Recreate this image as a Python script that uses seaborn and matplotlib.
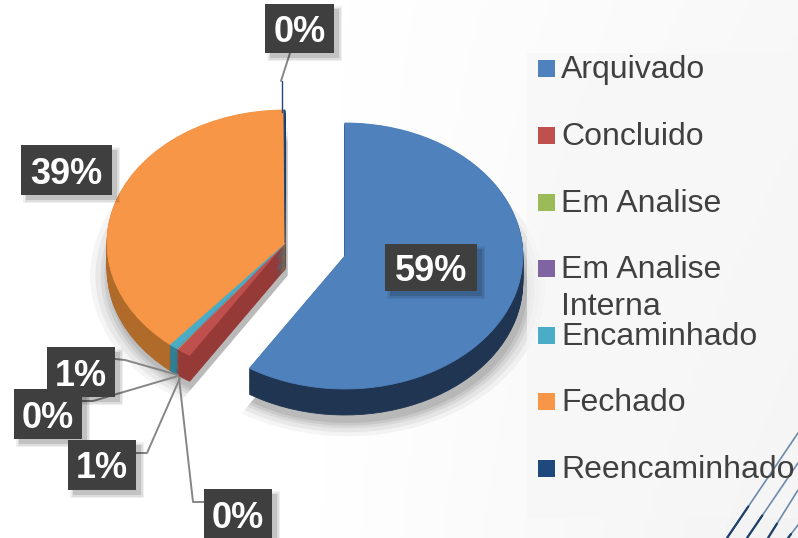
import numpy as np
import matplotlib
matplotlib.use("Agg")
import matplotlib.pyplot as plt
import seaborn as sns
from matplotlib.patches import Rectangle

categories = ["Arquivado", "Concluido", "Em Analise", "Em Analise\nInterna",
              "Encaminhado", "Fechado", "Reencaminhado"]
values = [59.0, 1.3, 0.05, 0.05, 0.8, 38.7, 0.1]
pct_labels = ["59%", "1%", "0%", "0%", "1%", "39%", "0%"]
top_colors = ["#4F81BD", "#C0504D", "#9BBB59", "#8064A2", "#4BACC6", "#F79646", "#1F497D"]
side_colors = ["#1F3552", "#963A38", "#6F8740", "#5B4774", "#2F7F94", "#B06A2A", "#14305A"]
explode = [0.35, 0, 0, 0, 0, 0, 0]

sns.set_theme(style="white")
plt.rcParams["font.family"] = ["Liberation Sans", "DejaVu Sans"]

W, H = 798, 538
fig = plt.figure(figsize=(W / 100, H / 100), dpi=100, facecolor="white")

# background gradient
bg = fig.add_axes([0, 0, 1, 1], zorder=0)
bg.axis("off")
gx, gy = np.meshgrid(np.linspace(0, 1, 200), np.linspace(0, 1, 140))
g = 1 - 0.05 * np.clip((gx - 0.35) / 0.65, 0, 1) * (0.6 + 0.4 * gy)
bg.imshow(g, cmap="gray", vmin=0, vmax=1, aspect="auto", extent=[0, W, H, 0])
bg.set_xlim(0, W)
bg.set_ylim(H, 0)

# pie axes: one x unit = rx px, one y unit = ry px around pie centre
cx, cy, rx, ry = 285, 243, 178, 133
ax = fig.add_axes([0, 0, 1, 1], zorder=1)
ax.patch.set_alpha(0)

depth = 26 / ry
wedgeline = dict(linewidth=0.6)

# soft shadow
for grow, a in zip([1.11, 1.08, 1.05, 1.03, 1.01], [0.04, 0.05, 0.06, 0.07, 0.08]):
    ax.pie(values, radius=grow, center=(0.015, -depth - 0.05), explode=explode, startangle=90,
           counterclock=False, colors=["#000000"] * 7,
           wedgeprops=dict(linewidth=0, alpha=a))

# extruded sides
for d in np.linspace(depth, 0.005, 24):
    w, _ = ax.pie(values, center=(0, -d), explode=explode, startangle=90,
                  counterclock=False, colors=sns.color_palette(side_colors),
                  wedgeprops=dict(wedgeline))
    for p, c in zip(w, side_colors):
        p.set_edgecolor(c)

# top face
wedges, _ = ax.pie(values, center=(0, 0), explode=explode, startangle=90,
                   counterclock=False, colors=sns.color_palette(top_colors),
                   wedgeprops=dict(wedgeline))
for p, c in zip(wedges, top_colors):
    p.set_edgecolor(c)

ax.set_aspect("auto")
ax.set_xlim(-cx / rx, (W - cx) / rx)
ax.set_ylim((cy - H) / ry, cy / ry)
ax.set_frame_on(False)

# overlay in pixel coordinates: leader lines, labels, legend
ov = fig.add_axes([0, 0, 1, 1], zorder=2)
ov.set_xlim(0, W)
ov.set_ylim(H, 0)
ov.axis("off")

# legend panel
ov.add_patch(Rectangle((527, 53), 271, 465, fc="#F7F7F7", ec="none", alpha=0.7, zorder=1))

# decorative corner lines
for x0, y1 in zip([727, 747, 768, 788], [433, 463, 490, 525]):
    ov.plot([x0, 798], [538, y1], color="#54789F", lw=1.2, alpha=0.85, zorder=2)
    ov.plot([x0, x0 + (798 - x0) * 0.3], [538, 538 - (538 - y1) * 0.3], color="#1F3F68", lw=1.6, zorder=2)

leaders = [
    ([115, 125, 178], [359, 360, 375]),
    ([80, 93, 178], [401, 401, 376]),
    ([136, 147, 180], [453, 453, 378]),
    ([204, 193, 179], [502, 502, 378]),
    ([290, 281], [53, 81]),
]
for xs, ys in leaders:
    ov.plot(xs, ys, color="#868686", lw=1.4, solid_capstyle="round", zorder=2)
ov.plot([282, 282], [81, 112], color=top_colors[6], lw=1.0, zorder=2)

label_boxes = [
    (385, 244, 92, 47, 0),
    (47, 347, 68, 50, 1),
    (14, 389, 68, 50, 2),
    (68, 440, 68, 50, 4),
    (204, 489, 68, 50, 3),
    (21, 145, 91, 50, 5),
    (265, 4, 69, 49, 6),
]
for x, y, w, h, i in label_boxes:
    for k, a in zip([10, 7, 4], [0.06, 0.08, 0.12]):
        ov.add_patch(Rectangle((x + 5 - k / 2 + 2, y + 5 - k / 2 + 2), w + k - 4, h + k - 4,
                               fc="black", ec="none", alpha=a, zorder=3))
    ov.add_patch(Rectangle((x, y), w, h, fc="#3F3F3F", ec="none", zorder=4))
    ov.text(x + w / 2, y + h / 2 + 4, pct_labels[i], color="white", fontsize=26,
            fontweight="bold", ha="center", va="center", zorder=5)

legend_y = [68, 135, 202, 268, 335, 401, 468]
for name, c, y in zip(categories, top_colors, legend_y):
    ov.add_patch(Rectangle((538, y - 8), 17, 17, fc=c, ec="none", zorder=3))
    if "\n" in name:
        a, b = name.split("\n")
        ov.text(561, y + 2, a, fontsize=23, color="#404040", va="center", ha="left", zorder=6)
        ov.text(561, y + 39, b, fontsize=23, color="#404040", va="center", ha="left", zorder=6)
    else:
        ov.text(561, y + 2, name, fontsize=23, color="#404040", va="center", ha="left", zorder=6)

fig.savefig("out.png", dpi=100, facecolor="white")
